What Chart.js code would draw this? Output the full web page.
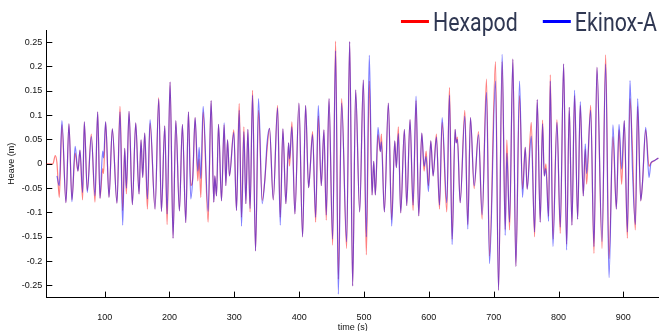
<!DOCTYPE html>
<html>
<head>
<meta charset="utf-8">
<script src="https://cdn.jsdelivr.net/npm/chart.js@4.4.0/dist/chart.umd.min.js"></script>
<style>
  html, body { margin: 0; padding: 0; background: #fff; }
  #wrap { width: 659px; height: 331px; position: relative; }
</style>
</head>
<body>
<div id="wrap"><canvas id="heaveChart"></canvas></div>
<script>
// Turning points: time (s) and heave (m) for both sensors
const time = [
    10.0, 20.2, 23.8, 26.4, 30.0, 34.1, 40.3, 44.9, 49.5, 54.5, 58.8, 61.9, 66.0, 68.6, 73.2, 79.4, 85.1, 89.2, 92.8, 96.9,
    98.3, 101.5, 106.7, 111.8, 119.0, 123.7, 127.8, 130.9, 133.5, 137.6, 142.7, 147.9, 153.0, 156.1, 158.7, 161.8, 165.9,
    170.0, 177.7, 183.4, 187.5, 192.7, 196.3, 200.9, 205.5, 209.7, 215.3, 219.9, 225.1, 229.2, 232.8, 235.9, 239.5, 243.6,
    245.7, 248.3, 251.9, 259.6, 264.2, 268.3, 269.9, 272.5, 275.6, 280.2, 284.3, 286.9, 289.5, 292.5, 299.2, 303.3, 307.5,
    311.1, 314.7, 317.8, 320.9, 324.3,
    328.1, 332.7, 337.3, 343.0, 347.1, 350.5, 354.3, 360.0, 366.7, 370.8, 374.9, 379.5, 383.7, 385.2, 388.8, 393.4, 399.6,
    405.3, 409.9, 414.5, 416.6, 420.7, 425.4, 429.5, 434.1, 438.2, 441.8, 446.0, 451.6, 456.2, 460.4, 465.5, 473.2, 477.9, 482.5,
    487.1, 493.3, 499.0, 503.6, 508.2, 512.4, 515.0, 517.5, 521.6, 525.2, 526.8, 531.4, 537.6, 542.7, 547.4, 549.9, 553.0,
    556.6, 562.3, 565.9, 571.0, 575.7, 580.3, 584.4, 589.1, 592.7, 595.8, 599.4, 603.0, 606.6, 611.7, 616.4, 620.5, 627.7,
    631.8, 635.9,
    640.5, 642.1, 644.1, 648.3, 655.5, 660.1, 664.2, 669.9, 676.6, 682.2, 688.9, 693.6, 702.8, 707.5, 713.1, 717.8, 720.3,
    724.5, 729.6, 734.2, 739.9, 744.5, 748.7, 751.7, 758.0, 763.1, 767.2, 771.8, 775.4, 778.0, 780.6, 784.7, 787.3, 791.4,
    797.6, 802.7, 807.9, 812.5, 816.6, 820.7, 824.8, 829.5, 833.6, 838.2, 841.3, 843.4, 849.6, 854.7, 859.3, 867.1, 872.7,
    877.9, 884.0, 889.2, 893.3, 897.4, 901.5, 906.2, 910.3, 913.9, 918.5, 922.1, 926.8, 929.5, 934.5, 939.6, 942.7, 947.0, 954.0
];

const hexapod = [
    0, 0, 0.017, 0.002, -0.069, 0.080, -0.080, 0.082, -0.074, 0.022, -0.015, 0.028, -0.074, 0.086, -0.055, 0.061, -0.079, 0.107, -0.071, -0.010,
    -0.020, 0.086, -0.069, 0.072, -0.081, 0.118, -0.096, 0.032, -0.062, 0.108, -0.084, 0.084, -0.062, 0.049, -0.028, 0.063, -0.093,
    0.083, -0.093, 0.136, -0.098, 0.078, -0.125, 0.168, -0.153, 0.089, -0.097, 0.081, -0.121, 0.107, -0.045, -0.028, 0.095, -0.035,
    0.010, -0.069, 0.107, -0.120, 0.130, -0.079, -0.025, -0.066, 0.081, -0.076, 0.080, -0.045, 0.049, -0.025, 0.070, -0.096, 0.124,
    -0.110, 0.076, -0.082, 0.071, -0.099,
    0.151, -0.179, 0.110, -0.075, -0.032, 0.030, 0.073, -0.074, 0.120, -0.110, 0.072, -0.082, 0.043, -0.005, 0.086, -0.103, 0.125,
    -0.150, 0.120, -0.049, -0.018, 0.066, -0.120, 0.098, -0.045, 0.070, -0.116, 0.134, -0.167, 0.252, -0.237, 0.134, -0.174, 0.251, -0.251,
    0.152, -0.099, 0.172, -0.187, 0.170, -0.064, 0.005, -0.064, 0.060, 0.025, 0.061, -0.099, 0.125, -0.115, 0.047, -0.008, 0.076,
    -0.101, 0.071, -0.086, 0.091, -0.096, 0.130, -0.107, 0.063, -0.015, 0.026, -0.045, 0.047, -0.025, 0.061, -0.093, 0.085, -0.099,
    0.157, -0.155,
    0.071, 0.043, 0.055, -0.080, 0.110, -0.125, 0.095, -0.051, 0.066, -0.114, 0.174, -0.190, 0.210, -0.260, 0.210, -0.135, 0.049,
    -0.136, 0.215, -0.211, 0.140, -0.052, 0.034, -0.052, 0.085, -0.150, 0.132, -0.120, 0.090, -0.025, 0.000, -0.108, 0.183, -0.155,
    0.091, -0.143, 0.205, -0.165, 0.116, -0.126, 0.140, -0.114, 0.120, -0.066, 0.030, -0.042, 0.120, -0.184, 0.198, -0.174, 0.224,
    -0.195, 0.056, -0.093, 0.070, -0.042, 0.089, -0.153, 0.134, 0.036, -0.136, 0.118, -0.076, -0.040, 0.070, -0.005, 0.002, 0.006, 0.012
];

const ekinox = [
    null, null, null, -0.025, -0.045, 0.089, -0.080, 0.082, -0.078, 0.036, -0.015, 0.028, -0.059, 0.086, -0.059, 0.056, -0.066, 0.107, -0.071, 0.026,
    0.012, 0.086, -0.069, 0.072, -0.081, 0.107, -0.126, 0.032, -0.050, 0.108, -0.084, 0.084, -0.062, 0.049, -0.028, 0.063, -0.072,
    0.091, -0.093, 0.133, -0.098, 0.078, -0.103, 0.168, -0.153, 0.089, -0.097, 0.081, -0.121, 0.107, -0.072, -0.028, 0.095, -0.015,
    0.034, -0.030, 0.118, -0.098, 0.130, -0.079, -0.025, -0.066, 0.081, -0.076, 0.084, -0.045, 0.049, -0.025, 0.064, -0.096, 0.110,
    -0.128, 0.066, -0.082, 0.071, -0.092,
    0.141, -0.179, 0.134, -0.082, -0.032, 0.043, 0.073, -0.074, 0.115, -0.126, 0.072, -0.082, 0.043, 0.010, 0.076, -0.103, 0.125,
    -0.150, 0.120, -0.049, -0.018, 0.060, -0.110, 0.120, -0.045, 0.070, -0.105, 0.134, -0.155, 0.232, -0.268, 0.125, -0.160, 0.251, -0.251,
    0.152, -0.099, 0.172, -0.150, 0.223, -0.064, 0.005, -0.064, 0.075, 0.025, 0.045, -0.099, 0.125, -0.128, 0.047, -0.008, 0.062,
    -0.101, 0.071, -0.086, 0.091, -0.085, 0.139, -0.107, 0.063, -0.005, 0.015, -0.057, 0.047, -0.025, 0.055, -0.085, 0.095, -0.080,
    0.141, -0.166,
    0.071, 0.043, 0.050, -0.080, 0.098, -0.134, 0.095, -0.045, 0.060, -0.105, 0.147, -0.205, 0.170, -0.260, 0.225, -0.147, 0.022,
    -0.120, 0.215, -0.211, 0.170, -0.069, 0.034, -0.052, 0.057, -0.140, 0.132, -0.120, 0.082, -0.025, -0.010, -0.118, 0.170, -0.170,
    0.085, -0.130, 0.205, -0.177, 0.116, -0.126, 0.151, -0.114, 0.128, -0.066, 0.041, -0.020, 0.110, -0.170, 0.198, -0.160, 0.205,
    -0.234, 0.080, -0.093, 0.081, -0.011, 0.089, -0.140, 0.171, -0.005, -0.125, 0.134, -0.076, -0.040, 0.075, -0.028, 0.002, 0.006, 0.012
];

const xTicks = [100, 200, 300, 400, 500, 600, 700, 800, 900];
const yTicks = [-0.25, -0.2, -0.15, -0.1, -0.05, 0, 0.05, 0.1, 0.15, 0.2, 0.25];
const seriesNames = ['Hexapod', 'Ekinox-A'];
const seriesColors = ['#ff0000', '#0000ff'];

const axisFont = { family: "'Liberation Sans', Arial, sans-serif", size: 9 };

// short tick marks pointing into the plot, like the original figure
const inwardTicks = {
    id: 'inwardTicks',
    afterDraw(chart) {
        const { ctx, chartArea, scales } = chart;
        ctx.save();
        ctx.strokeStyle = '#000';
        ctx.lineWidth = 1;
        ctx.beginPath();
        scales.x.ticks.forEach(t => {
            const px = Math.round(scales.x.getPixelForValue(t.value)) + 0.5;
            ctx.moveTo(px, chartArea.bottom);
            ctx.lineTo(px, chartArea.bottom - 6);
        });
        scales.y.ticks.forEach(t => {
            const py = Math.round(scales.y.getPixelForValue(t.value)) + 0.5;
            ctx.moveTo(chartArea.left, py);
            ctx.lineTo(chartArea.left + 6, py);
        });
        ctx.stroke();
        ctx.restore();
    }
};

// big legend in the top right corner, drawn over the plot's top margin
const topLegend = {
    id: 'topLegend',
    afterDraw(chart) {
        const ctx = chart.ctx;
        const squeeze = 0.82;
        const lineLen = 28, lineGap = 4, itemGap = 25;
        const baseline = 31, lineY = 21.5;
        ctx.save();
        ctx.font = "26px Roboto, 'Noto Sans', sans-serif";
        ctx.textBaseline = 'alphabetic';
        let right = chart.width - 2;
        const pos = [];
        for (let i = seriesNames.length - 1; i >= 0; i--) {
            const w = ctx.measureText(seriesNames[i]).width * squeeze;
            const textX = right - w;
            const lineX = textX - lineGap - lineLen;
            pos[i] = { textX, lineX };
            right = lineX - itemGap;
        }
        seriesNames.forEach((name, i) => {
            ctx.strokeStyle = seriesColors[i];
            ctx.lineWidth = 3;
            ctx.beginPath();
            ctx.moveTo(pos[i].lineX, lineY);
            ctx.lineTo(pos[i].lineX + lineLen, lineY);
            ctx.stroke();
            ctx.save();
            ctx.translate(pos[i].textX, baseline);
            ctx.scale(squeeze, 1);
            ctx.fillStyle = '#2f3752';
            ctx.fillText(name, 0, 0);
            ctx.restore();
        });
        ctx.restore();
    }
};

const toPoints = values => time.map((t, i) => ({ x: t, y: values[i] }));

const heaveChart = new Chart(document.getElementById('heaveChart'), {
    type: 'line',
    data: {
        datasets: [
            {
                label: seriesNames[0],
                data: toPoints(hexapod),
                borderColor: 'rgba(255, 0, 0, 0.5)',
                borderWidth: 1.2,
                cubicInterpolationMode: 'monotone',
                pointRadius: 0,
                order: 2
            },
            {
                label: seriesNames[1],
                data: toPoints(ekinox),
                borderColor: 'rgba(0, 0, 255, 0.5)',
                borderWidth: 1.2,
                cubicInterpolationMode: 'monotone',
                pointRadius: 0,
                order: 1
            }
        ]
    },
    options: {
        responsive: true,
        maintainAspectRatio: false,
        animation: false,
        devicePixelRatio: 1,
        layout: { padding: { top: 30, right: 0, bottom: -2, left: 4 } },
        plugins: {
            legend: { display: false },
            tooltip: { enabled: false }
        },
        scales: {
            x: {
                type: 'linear',
                min: 10,
                max: 955,
                afterBuildTicks: scale => { scale.ticks = xTicks.map(v => ({ value: v })); },
                grid: { display: false, drawTicks: false },
                border: { display: true, color: '#000', width: 1 },
                ticks: { font: axisFont, color: '#111', padding: 14.6, maxRotation: 0, autoSkip: false, callback: v => String(v) },
                title: { display: true, text: 'time (s)', font: axisFont, color: '#111', padding: { top: -15.4, bottom: 0 } }
            },
            y: {
                type: 'linear',
                min: -0.275,
                max: 0.275,
                afterBuildTicks: scale => { scale.ticks = yTicks.map(v => ({ value: v })); },
                grid: { display: false, drawTicks: false },
                border: { display: true, color: '#000', width: 1 },
                ticks: { font: axisFont, color: '#111', padding: 4, autoSkip: false, callback: v => String(v) },
                title: { display: true, text: 'Heave (m)', font: axisFont, color: '#111', padding: { top: 2, bottom: 1 } }
            }
        }
    },
    plugins: [inwardTicks, topLegend]
});
</script>
</body>
</html>
